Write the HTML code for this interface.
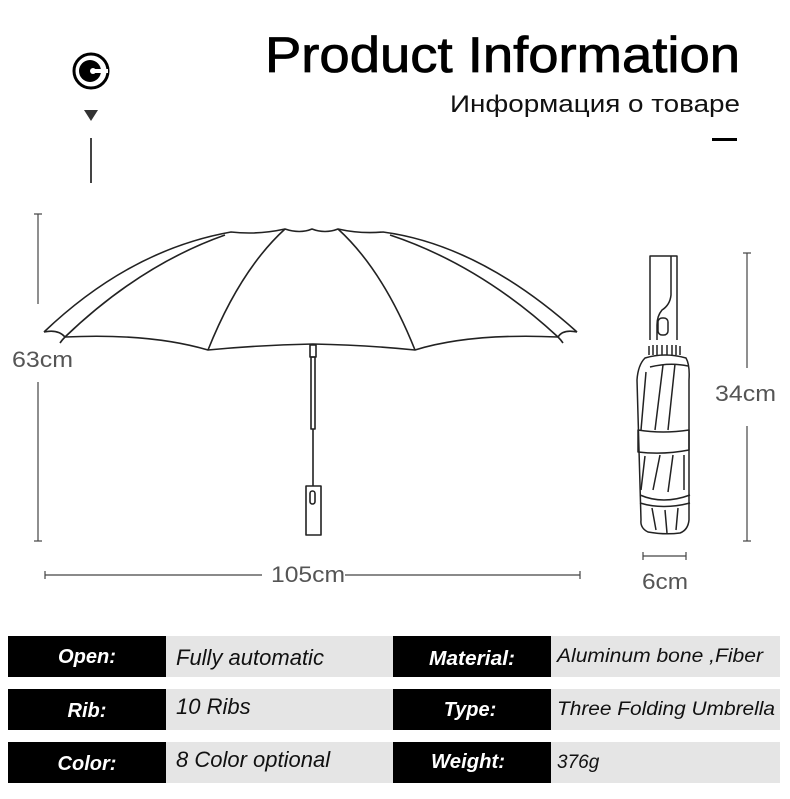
<!DOCTYPE html>
<html><head><meta charset="utf-8"><style>
html,body{margin:0;padding:0;background:#fff;width:790px;height:799px;overflow:hidden}
svg{display:block}
</style></head><body>
<svg width="790" height="799" viewBox="0 0 790 799" xmlns="http://www.w3.org/2000/svg" font-family="Liberation Sans, DejaVu Sans, sans-serif">
<rect width="790" height="799" fill="#fff"/>
<circle cx="91" cy="71" r="17" fill="none" stroke="#000" stroke-width="3"/>
<circle cx="90" cy="71" r="11" fill="#000"/>
<rect x="92" y="69" width="16" height="4" fill="#fff"/>
<circle cx="93" cy="71" r="3" fill="#fff"/>
<polygon points="84,110 98,110 91,121" fill="#333"/>
<line x1="91" y1="138" x2="91" y2="183" stroke="#444" stroke-width="2"/>
<text x="265" y="72" font-size="50" textLength="475" lengthAdjust="spacingAndGlyphs" fill="#000" stroke="#000" stroke-width="0.8">Product Information</text>
<text x="450" y="112" font-size="24" textLength="290" lengthAdjust="spacingAndGlyphs" fill="#111">Информация о товаре</text>
<rect x="712" y="138" width="25" height="3" fill="#000"/>
<g fill="none" stroke="#222" stroke-width="1.6" stroke-linejoin="round">
<path d="M44,332 Q130,250 231,232 Q258,235 285,229 Q300,234 312,229 Q325,234 338,229 Q360,234 383,232 Q480,245 577,332"/>
<path d="M65,337 Q140,265 225,235"/>
<path d="M558,337 Q480,265 390,235"/>
<path d="M44,332 Q58,329 65,337 Q62,340 60,343"/>
<path d="M577,332 Q563,329 558,337 Q561,340 563,343"/>
<path d="M65,337 Q150,333 208,350 Q260,345 313,344 Q366,345 415,350 Q470,333 558,337"/>
<path d="M208,350 Q240,270 285,229"/>
<path d="M415,350 Q383,270 338,229"/>
<rect x="310" y="345" width="6" height="12"/>
<rect x="311" y="357" width="4" height="72"/>
<line x1="313" y1="429" x2="313" y2="486"/>
<rect x="306" y="486" width="15" height="49"/>
<rect x="310" y="491" width="5" height="13" rx="2.5"/>
</g>
<g stroke="#444" stroke-width="1.2">
<line x1="38" y1="214" x2="38" y2="304"/><line x1="34" y1="214" x2="42" y2="214"/>
<line x1="38" y1="382" x2="38" y2="541"/><line x1="34" y1="541" x2="42" y2="541"/>
<line x1="45" y1="575" x2="262" y2="575"/><line x1="345" y1="575" x2="580" y2="575"/>
<line x1="45" y1="571" x2="45" y2="579"/><line x1="580" y1="571" x2="580" y2="579"/>
<line x1="747" y1="253" x2="747" y2="368"/><line x1="743" y1="253" x2="751" y2="253"/>
<line x1="747" y1="426" x2="747" y2="541"/><line x1="743" y1="541" x2="751" y2="541"/>
<line x1="643" y1="556" x2="686" y2="556"/><line x1="643" y1="552" x2="643" y2="560"/><line x1="686" y1="552" x2="686" y2="560"/>
</g>
<g fill="#555" font-size="22">
<text x="12" y="367" textLength="61" lengthAdjust="spacingAndGlyphs">63cm</text>
<text x="271" y="582" textLength="74" lengthAdjust="spacingAndGlyphs">105cm</text>
<text x="715" y="401" textLength="61" lengthAdjust="spacingAndGlyphs">34cm</text>
<text x="642" y="589" textLength="46" lengthAdjust="spacingAndGlyphs">6cm</text>
</g>
<g fill="none" stroke="#222" stroke-width="1.5" stroke-linejoin="round">
<path d="M650,340 V256 H677 V340"/>
<path d="M671,256 V295 Q670,305 662,310 Q657,316 657,325 V340"/>
<rect x="658" y="318" width="10" height="17" rx="4"/>
<path d="M649,355 V346 M653,355 V345 M657,355 V345 M662,355 V345 M667,355 V345 M672,355 V345 M676,355 V345 M680,355 V346"/>
<path d="M645,358 Q665,352 686,358 Q690,365 689,380 L689,520 Q688,530 680,533 Q665,535 648,532 Q640,528 641,520 L637,380 Q638,365 645,358 Z"/>
<path d="M650,367 Q670,362 688,366"/>
<path d="M646,372 L641,430 M663,365 L655,430 M675,364 L668,430"/>
<path d="M638,430 Q663,434 689,430 L689,450 Q663,455 638,452 Z"/>
<path d="M645,456 L641,490 M660,455 L653,490 M673,455 L668,492 M684,455 L684,490"/>
<path d="M640,495 Q663,505 690,495 M640,503 Q663,510 690,503"/>
<path d="M652,508 L656,530 M665,510 L667,533 M678,508 L676,530"/>
</g>
<g>
<rect x="8" y="636" width="158" height="41" fill="#000"/><rect x="166" y="636" width="227" height="41" fill="#e5e5e5"/>
<rect x="393" y="636" width="158" height="41" fill="#000"/><rect x="551" y="636" width="229" height="41" fill="#e5e5e5"/>
<rect x="8" y="689" width="158" height="41" fill="#000"/><rect x="166" y="689" width="227" height="41" fill="#e5e5e5"/>
<rect x="393" y="689" width="158" height="41" fill="#000"/><rect x="551" y="689" width="229" height="41" fill="#e5e5e5"/>
<rect x="8" y="742" width="158" height="41" fill="#000"/><rect x="166" y="742" width="227" height="41" fill="#e5e5e5"/>
<rect x="393" y="742" width="158" height="41" fill="#000"/><rect x="551" y="742" width="229" height="41" fill="#e5e5e5"/>
</g>
<g fill="#fff" font-size="20" font-weight="bold" font-style="italic" text-anchor="middle">
<text x="87" y="663" textLength="58" lengthAdjust="spacingAndGlyphs">Open:</text><text x="472" y="665" textLength="86" lengthAdjust="spacingAndGlyphs">Material:</text>
<text x="87" y="717">Rib:</text><text x="470" y="716">Type:</text>
<text x="87" y="770">Color:</text><text x="468" y="768" textLength="74" lengthAdjust="spacingAndGlyphs">Weight:</text>
</g>
<g fill="#111" font-style="italic">
<text x="176" y="665" font-size="22">Fully automatic</text>
<text x="176" y="714" font-size="22">10 Ribs</text>
<text x="176" y="767" font-size="22">8 Color optional</text>
<text x="557" y="662" font-size="19" textLength="206" lengthAdjust="spacingAndGlyphs">Aluminum bone ,Fiber</text>
<text x="557" y="715" font-size="19" textLength="218" lengthAdjust="spacingAndGlyphs">Three Folding Umbrella</text>
<text x="557" y="768" font-size="19">376g</text>
</g>
</svg>
</body></html>
